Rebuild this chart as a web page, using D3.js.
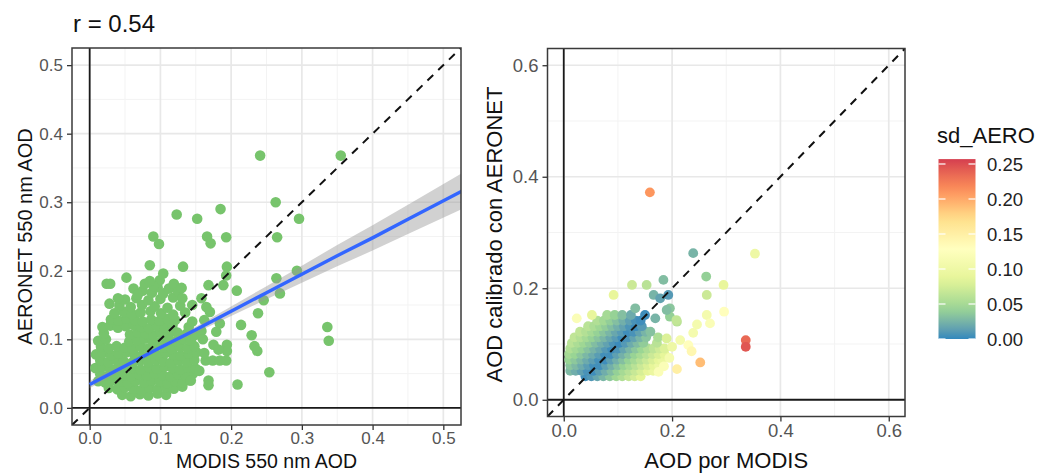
<!DOCTYPE html>
<html><head><meta charset="utf-8">
<script src="https://cdn.jsdelivr.net/npm/d3@7"></script>
<style>
body{margin:0;background:#fff;}
svg{display:block;}
text{font-family:"Liberation Sans", Arial, Helvetica, sans-serif;}
</style>
</head><body>
<svg id="chart" width="1044" height="473"></svg>
<script>
// ---------------- DATA ----------------
const plotTitle = "r = 0.54";
const leftXLabel = "MODIS 550 nm AOD";
const leftYLabel = "AERONET 550 nm AOD";
const rightXLabel = "AOD por MODIS";
const rightYLabel = "AOD calibrado con AERONET";
const legendTitle = "sd_AERO";

const leftTicks = [0.0, 0.1, 0.2, 0.3, 0.4, 0.5];
const leftMinor = [0.05, 0.15, 0.25, 0.35, 0.45];
const rightTicks = [0.0, 0.2, 0.4, 0.6];
const rightMinor = [0.1, 0.3, 0.5];
const legendBreaks = [0.00, 0.05, 0.10, 0.15, 0.20, 0.25];
const sdLimits = [0, 0.257];
const spectralColors = ["#3288BD", "#99D594", "#E6F598", "#FFFFBF", "#FEE08B", "#FC8D59", "#D53E4F"];

// MODIS (x) vs AERONET (y) – dense cluster
const modisAeronetCluster = [
 [0.046,0.019],[0.058,0.017],[0.071,0.020],[0.083,0.018],[0.096,0.021],[0.108,0.019],
 [0.027,0.029],[0.039,0.027],[0.050,0.030],[0.062,0.028],[0.073,0.026],[0.085,0.029],[0.096,0.027],[0.108,0.030],[0.119,0.028],[0.131,0.031],
 [0.012,0.039],[0.022,0.037],[0.033,0.040],[0.043,0.038],[0.054,0.036],[0.065,0.039],[0.077,0.037],[0.088,0.040],[0.099,0.038],[0.110,0.036],[0.121,0.039],[0.132,0.037],[0.142,0.040],
 [0.015,0.049],[0.026,0.047],[0.037,0.050],[0.048,0.048],[0.059,0.046],[0.070,0.049],[0.081,0.047],[0.092,0.050],[0.103,0.048],[0.114,0.046],[0.125,0.049],[0.136,0.047],[0.146,0.050],
 [0.008,0.058],[0.018,0.060],[0.029,0.057],[0.040,0.059],[0.050,0.061],[0.061,0.058],[0.072,0.056],[0.084,0.059],[0.095,0.057],[0.106,0.060],[0.117,0.058],[0.128,0.056],[0.139,0.059],[0.150,0.057],
 [0.015,0.069],[0.026,0.067],[0.037,0.070],[0.048,0.068],[0.060,0.066],[0.071,0.069],[0.082,0.067],[0.093,0.070],[0.104,0.068],[0.115,0.066],[0.126,0.069],[0.137,0.067],[0.148,0.070],
 [0.009,0.078],[0.019,0.080],[0.030,0.077],[0.041,0.079],[0.052,0.081],[0.063,0.078],[0.074,0.076],[0.085,0.079],[0.096,0.077],[0.107,0.080],[0.118,0.078],[0.129,0.076],[0.140,0.079],[0.151,0.081],
 [0.016,0.089],[0.027,0.087],[0.038,0.090],[0.050,0.088],[0.061,0.086],[0.072,0.089],[0.083,0.087],[0.094,0.090],[0.105,0.088],[0.116,0.086],[0.127,0.089],[0.138,0.087],[0.148,0.090],
 [0.012,0.098],[0.023,0.100],[0.056,0.097],[0.067,0.099],[0.078,0.101],[0.089,0.098],[0.100,0.096],[0.111,0.099],[0.122,0.097],[0.133,0.100],[0.143,0.098],
 [0.020,0.109],[0.057,0.107],[0.068,0.110],[0.079,0.108],[0.090,0.106],[0.101,0.109],[0.112,0.107],[0.124,0.110],[0.137,0.108],[0.148,0.106],
 [0.018,0.118],[0.029,0.120],[0.040,0.117],[0.051,0.119],[0.062,0.121],[0.073,0.118],[0.084,0.116],[0.095,0.119],[0.106,0.117],[0.117,0.120],[0.140,0.118],
 [0.030,0.129],[0.041,0.127],[0.052,0.130],[0.064,0.128],[0.075,0.126],[0.087,0.129],[0.099,0.127],[0.110,0.130],[0.121,0.128],[0.145,0.126],
 [0.035,0.138],[0.048,0.140],[0.060,0.137],[0.072,0.139],[0.086,0.141],[0.101,0.138],[0.118,0.136],[0.135,0.139],
 [0.042,0.149],[0.058,0.147],[0.074,0.150],[0.092,0.148],[0.110,0.146],[0.128,0.149],
 [0.050,0.158],[0.066,0.160],[0.083,0.157],[0.100,0.159],[0.118,0.161],
 [0.088,0.168],[0.096,0.176],[0.104,0.167],[0.112,0.174],[0.119,0.181],[0.125,0.170],[0.131,0.160],[0.075,0.171],[0.062,0.174],[0.078,0.181],[0.099,0.186],[0.068,0.165],[0.040,0.160],[0.028,0.152]
];
// MODIS (x) vs AERONET (y) – scattered points
const modisAeronetScatter = [
 [0.241,0.368],[0.355,0.368],[0.263,0.300],[0.296,0.276],[0.123,0.282],[0.152,0.276],[0.185,0.290],
 [0.090,0.250],[0.098,0.239],[0.166,0.250],[0.171,0.240],[0.193,0.249],[0.265,0.249],
 [0.085,0.208],[0.132,0.206],[0.104,0.196],[0.194,0.206],[0.193,0.193],[0.052,0.190],[0.024,0.181],[0.029,0.181],
 [0.168,0.179],[0.189,0.179],[0.208,0.171],[0.264,0.189],[0.269,0.167],[0.293,0.200],[0.246,0.157],[0.238,0.138],[0.214,0.121],
 [0.336,0.118],[0.338,0.098],[0.165,0.147],[0.170,0.140],[0.162,0.128],[0.184,0.123],[0.158,0.160],[0.158,0.112],
 [0.179,0.111],[0.194,0.092],[0.194,0.083],[0.175,0.092],[0.182,0.085],[0.164,0.069],[0.174,0.069],[0.184,0.069],[0.193,0.069],
 [0.155,0.054],[0.168,0.040],[0.168,0.033],[0.143,0.040],[0.229,0.106],[0.233,0.090],[0.237,0.083],[0.254,0.052],[0.209,0.034],
 [0.160,0.100],[0.162,0.080],[0.090,0.178],[0.085,0.185],[0.130,0.175],[0.145,0.150]
];

// linear fit with 95% band
const smoothX   = [0.000, 0.050, 0.100, 0.150, 0.200, 0.250, 0.300, 0.350, 0.400, 0.450, 0.526];
const smoothFit = [0.034, 0.061, 0.088, 0.114, 0.141, 0.168, 0.195, 0.222, 0.248, 0.275, 0.316];
const smoothLo  = [0.0285,0.0575,0.085, 0.1095,0.134, 0.1585,0.1825,0.2065,0.2295,0.2535,0.290];
const smoothHi  = [0.0395,0.0645,0.091, 0.1185,0.148, 0.1775,0.2075,0.2375,0.2665,0.2965,0.342];

// MODIS (x) vs calibrated AOD (y), sd_AERO colour
const calibratedCluster = [
 [0.040,0.042,0.004],[0.051,0.042,0.009],[0.062,0.042,0.017],[0.073,0.042,0.026],[0.085,0.042,0.036],[0.097,0.042,0.046],[0.108,0.042,0.055],[0.120,0.042,0.066],[0.131,0.042,0.075],[0.142,0.042,0.085],
 [0.012,0.052,0.028],[0.022,0.052,0.021],[0.033,0.052,0.014],[0.044,0.052,0.006],[0.055,0.052,0.003],[0.066,0.052,0.012],[0.077,0.052,0.021],[0.088,0.052,0.030],[0.099,0.052,0.040],[0.110,0.052,0.050],[0.121,0.052,0.059],[0.132,0.052,0.068],[0.143,0.052,0.077],[0.155,0.052,0.087],[0.165,0.052,0.095],
 [0.012,0.062,0.035],[0.023,0.062,0.028],[0.034,0.062,0.020],[0.045,0.062,0.012],[0.056,0.062,0.004],[0.067,0.062,0.004],[0.078,0.062,0.014],[0.089,0.062,0.023],[0.100,0.062,0.032],[0.111,0.062,0.042],[0.122,0.062,0.051],[0.133,0.062,0.060],[0.144,0.062,0.070],[0.155,0.062,0.079],[0.166,0.062,0.088],[0.176,0.062,0.098],
 [0.010,0.072,0.043],[0.021,0.072,0.036],[0.032,0.072,0.028],[0.043,0.072,0.020],[0.054,0.072,0.013],[0.065,0.072,0.005],[0.076,0.072,0.003],[0.087,0.072,0.013],[0.098,0.072,0.022],[0.109,0.072,0.031],[0.120,0.072,0.041],[0.131,0.072,0.050],[0.142,0.072,0.060],[0.153,0.072,0.069],[0.164,0.072,0.078],[0.175,0.072,0.088],[0.182,0.072,0.094],
 [0.010,0.082,0.050],[0.021,0.082,0.043],[0.032,0.082,0.035],[0.043,0.082,0.027],[0.054,0.082,0.020],[0.065,0.082,0.012],[0.076,0.082,0.004],[0.087,0.082,0.004],[0.098,0.082,0.014],[0.109,0.082,0.023],[0.120,0.082,0.032],[0.131,0.082,0.042],[0.142,0.082,0.051],[0.153,0.082,0.060],[0.164,0.082,0.070],[0.175,0.082,0.079],[0.186,0.082,0.088],
 [0.012,0.092,0.056],[0.023,0.092,0.048],[0.034,0.092,0.041],[0.045,0.092,0.033],[0.056,0.092,0.025],[0.067,0.092,0.018],[0.078,0.092,0.010],[0.089,0.092,0.003],[0.100,0.092,0.007],[0.111,0.092,0.016],[0.122,0.092,0.026],[0.133,0.092,0.035],[0.144,0.092,0.044],[0.155,0.092,0.054],[0.166,0.092,0.063],[0.177,0.092,0.072],[0.186,0.092,0.080],
 [0.015,0.102,0.061],[0.026,0.102,0.053],[0.037,0.102,0.046],[0.048,0.102,0.038],[0.059,0.102,0.030],[0.070,0.102,0.022],[0.081,0.102,0.015],[0.092,0.102,0.007],[0.103,0.102,0.002],[0.114,0.102,0.010],[0.125,0.102,0.020],[0.136,0.102,0.029],[0.147,0.102,0.038],[0.172,0.102,0.060],
 [0.020,0.112,0.064],[0.031,0.112,0.057],[0.042,0.112,0.049],[0.053,0.112,0.041],[0.064,0.112,0.034],[0.075,0.112,0.026],[0.086,0.112,0.018],[0.097,0.112,0.011],[0.108,0.112,0.003],[0.119,0.112,0.006],[0.130,0.112,0.015],[0.141,0.112,0.025],[0.152,0.112,0.034],[0.174,0.112,0.053],
 [0.030,0.122,0.064],[0.041,0.122,0.057],[0.052,0.122,0.049],[0.063,0.122,0.041],[0.074,0.122,0.034],[0.085,0.122,0.026],[0.096,0.122,0.018],[0.107,0.122,0.011],[0.118,0.122,0.003],[0.129,0.122,0.006],[0.140,0.122,0.015],[0.151,0.122,0.025],[0.160,0.122,0.032],
 [0.045,0.132,0.061],[0.056,0.132,0.053],[0.067,0.132,0.046],[0.078,0.132,0.038],[0.089,0.132,0.030],[0.100,0.132,0.022],[0.111,0.132,0.015],[0.122,0.132,0.007],[0.133,0.132,0.002],[0.144,0.132,0.010],
 [0.062,0.142,0.056],[0.074,0.142,0.048],[0.086,0.142,0.039],[0.098,0.142,0.031],[0.110,0.142,0.022],[0.122,0.142,0.014],[0.133,0.142,0.006],[0.142,0.142,0.003],
 [0.080,0.152,0.050],[0.094,0.152,0.041],[0.108,0.152,0.031],[0.124,0.152,0.020],[0.150,0.152,0.003]
];
const calibratedScatter = [
 [0.159,0.372,0.210],[0.239,0.263,0.025],[0.353,0.262,0.100],[0.263,0.221,0.040],[0.295,0.206,0.090],[0.264,0.188,0.070],
 [0.296,0.158,0.130],[0.264,0.152,0.110],[0.270,0.137,0.120],[0.246,0.135,0.110],[0.239,0.120,0.110],[0.215,0.107,0.110],
 [0.230,0.098,0.130],[0.236,0.087,0.140],[0.252,0.067,0.190],[0.209,0.055,0.150],[0.336,0.107,0.235],[0.336,0.095,0.245],
 [0.184,0.215,0.030],[0.153,0.206,0.060],[0.126,0.206,0.070],[0.092,0.188,0.090],[0.166,0.188,0.025],[0.178,0.182,0.015],
 [0.193,0.188,0.010],[0.196,0.164,0.035],[0.196,0.149,0.040],[0.169,0.146,0.025],[0.209,0.140,0.060],[0.132,0.164,0.030],
 [0.024,0.146,0.120],[0.052,0.152,0.090],[0.190,0.161,0.030],[0.208,0.143,0.065],[0.190,0.110,0.080],[0.200,0.095,0.100],
 [0.195,0.075,0.110],[0.185,0.060,0.120],[0.175,0.050,0.120]
];

// ---------------- DRAWING ----------------
const svg = d3.select("#chart");
const fmt1 = d3.format(".1f"), fmt2 = d3.format(".2f");
const gridMajor = "#e8e8e8", gridMinor = "#f3f3f3", axisCol = "#333333", tickTextCol = "#555555";

function panel(opts) {
  const {x, y, ticks, minor, id} = opts;
  const [x0, x1] = x.range(), [y0, y1] = y.range();
  const g = svg.append("g");
  g.append("clipPath").attr("id", id).append("rect")
    .attr("x", x0).attr("y", y1).attr("width", x1 - x0).attr("height", y0 - y1);
  g.selectAll(".mvx").data(minor).join("line")
    .attr("x1", d => x(d)).attr("x2", d => x(d)).attr("y1", y1).attr("y2", y0)
    .attr("stroke", gridMinor).attr("stroke-width", 1);
  g.selectAll(".mhy").data(minor).join("line")
    .attr("y1", d => y(d)).attr("y2", d => y(d)).attr("x1", x0).attr("x2", x1)
    .attr("stroke", gridMinor).attr("stroke-width", 1);
  g.selectAll(".gvx").data(ticks).join("line")
    .attr("x1", d => x(d)).attr("x2", d => x(d)).attr("y1", y1).attr("y2", y0)
    .attr("stroke", gridMajor).attr("stroke-width", 1.7);
  g.selectAll(".ghy").data(ticks).join("line")
    .attr("y1", d => y(d)).attr("y2", d => y(d)).attr("x1", x0).attr("x2", x1)
    .attr("stroke", gridMajor).attr("stroke-width", 1.7);
  const ax = g.append("g").attr("transform", `translate(0,${y0})`)
    .call(d3.axisBottom(x).tickValues(ticks).tickFormat(fmt1).tickSizeOuter(0).tickSize(5).tickPadding(2));
  const ay = g.append("g").attr("transform", `translate(${x0},0)`)
    .call(d3.axisLeft(y).tickValues(ticks).tickFormat(fmt1).tickSizeOuter(0).tickSize(5).tickPadding(4));
  [ax, ay].forEach(a => {
    a.select(".domain").remove();
    a.selectAll(".tick line").attr("stroke", axisCol).attr("stroke-width", 1.3);
    a.selectAll(".tick text").attr("fill", tickTextCol).attr("font-size", opts.tickSize)
      .attr("font-family", "Liberation Sans, Arial, sans-serif");
  });
  const ref = g.append("g").attr("clip-path", `url(#${id})`);
  ref.append("line").attr("x1", x(0)).attr("x2", x(0)).attr("y1", y1).attr("y2", y0)
    .attr("stroke", "#1a1a1a").attr("stroke-width", 1.8);
  ref.append("line").attr("y1", y(0)).attr("y2", y(0)).attr("x1", x0).attr("x2", x1)
    .attr("stroke", "#1a1a1a").attr("stroke-width", 1.8);
  const layer = g.append("g").attr("clip-path", `url(#${id})`);
  return {g, layer, x0, x1, y0, y1};
}

// ---- left panel ----
const xL = d3.scaleLinear().domain([-0.025, 0.525]).range([72, 461]);
const yL = d3.scaleLinear().domain([-0.025, 0.525]).range([425, 48]);
const L = panel({x: xL, y: yL, ticks: leftTicks, minor: leftMinor, id: "clipL", tickSize: "17px"});

const leftPts = modisAeronetCluster.concat(modisAeronetScatter);
L.layer.selectAll("circle.p").data(leftPts).join("circle")
  .attr("cx", d => xL(d[0])).attr("cy", d => yL(d[1])).attr("r", 5.3)
  .attr("fill", "#77C46C");

const band = smoothX.map((v, i) => ({x: v, lo: smoothLo[i], hi: smoothHi[i], f: smoothFit[i]}));
L.layer.append("path").datum(band)
  .attr("d", d3.area().x(d => xL(d.x)).y0(d => yL(d.lo)).y1(d => yL(d.hi)))
  .attr("fill", "#999999").attr("fill-opacity", 0.45);
L.layer.append("path").datum(band)
  .attr("d", d3.line().x(d => xL(d.x)).y(d => yL(d.f)))
  .attr("fill", "none").attr("stroke", "#3366FF").attr("stroke-width", 3.4);
L.layer.append("line")
  .attr("x1", xL(-0.025)).attr("y1", yL(-0.025)).attr("x2", xL(0.525)).attr("y2", yL(0.525))
  .attr("stroke", "#111").attr("stroke-width", 2).attr("stroke-dasharray", "8,7");
L.g.append("rect").attr("x", L.x0).attr("y", L.y1).attr("width", L.x1 - L.x0).attr("height", L.y0 - L.y1)
  .attr("fill", "none").attr("stroke", "#3a3a3a").attr("stroke-width", 1.5);

svg.append("text").attr("x", 73).attr("y", 32).attr("font-size", "24px").attr("fill", "#111").text(plotTitle);
svg.append("text").attr("x", (L.x0 + L.x1) / 2).attr("y", 468).attr("text-anchor", "middle")
  .attr("font-size", "19.5px").attr("fill", "#111").text(leftXLabel);
svg.append("text").attr("transform", `translate(32,${(L.y0 + L.y1) / 2}) rotate(-90)`)
  .attr("text-anchor", "middle").attr("font-size", "20px").attr("fill", "#111").text(leftYLabel);

// ---- right panel ----
const xR = d3.scaleLinear().domain([-0.03, 0.63]).range([547.5, 905]);
const yR = d3.scaleLinear().domain([-0.03, 0.63]).range([416.5, 48.5]);
const R = panel({x: xR, y: yR, ticks: rightTicks, minor: rightMinor, id: "clipR", tickSize: "18.5px"});

const color = d3.scaleLinear()
  .domain(spectralColors.map((c, i) => sdLimits[0] + (sdLimits[1] - sdLimits[0]) * i / (spectralColors.length - 1)))
  .range(spectralColors).interpolate(d3.interpolateLab).clamp(true);

const rightPts = calibratedCluster.concat(calibratedScatter);
R.layer.selectAll("circle.q").data(rightPts).join("circle")
  .attr("cx", d => xR(d[0])).attr("cy", d => yR(d[1])).attr("r", 4.9)
  .attr("fill", d => color(d[2]));
R.layer.append("line")
  .attr("x1", xR(-0.03)).attr("y1", yR(-0.03)).attr("x2", xR(0.63)).attr("y2", yR(0.63))
  .attr("stroke", "#111").attr("stroke-width", 2).attr("stroke-dasharray", "8,7");
R.g.append("rect").attr("x", R.x0).attr("y", R.y1).attr("width", R.x1 - R.x0).attr("height", R.y0 - R.y1)
  .attr("fill", "none").attr("stroke", "#3a3a3a").attr("stroke-width", 1.5);

svg.append("text").attr("x", (R.x0 + R.x1) / 2).attr("y", 468).attr("text-anchor", "middle")
  .attr("font-size", "22px").attr("fill", "#111").text(rightXLabel);
svg.append("text").attr("transform", `translate(502,${(R.y0 + R.y1) / 2 + 2}) rotate(-90)`)
  .attr("text-anchor", "middle").attr("font-size", "22px").attr("fill", "#111").text(rightYLabel);

// ---- legend ----
const legY = d3.scaleLinear().domain([0, 0.25]).range([339, 164]);
const barX = 938.5, barW = 37;
const defs = svg.append("defs");
const grad = defs.append("linearGradient").attr("id", "sdgrad")
  .attr("x1", 0).attr("y1", 1).attr("x2", 0).attr("y2", 0);
d3.range(0, 1.0001, 0.05).forEach(t => {
  grad.append("stop").attr("offset", t).attr("stop-color", color(sdLimits[0] + t * (sdLimits[1] - sdLimits[0])));
});
svg.append("rect").attr("x", barX).attr("y", legY(sdLimits[1])).attr("width", barW)
  .attr("height", legY(sdLimits[0]) - legY(sdLimits[1])).attr("fill", "url(#sdgrad)");
const lt = svg.append("g");
lt.selectAll("line.a").data(legendBreaks).join("line")
  .attr("x1", barX).attr("x2", barX + 7).attr("y1", d => legY(d)).attr("y2", d => legY(d))
  .attr("stroke", "#fff").attr("stroke-width", 1.2);
lt.selectAll("line.b").data(legendBreaks).join("line")
  .attr("x1", barX + barW - 7).attr("x2", barX + barW).attr("y1", d => legY(d)).attr("y2", d => legY(d))
  .attr("stroke", "#fff").attr("stroke-width", 1.2);
lt.selectAll("text").data(legendBreaks).join("text")
  .attr("x", 987).attr("y", d => legY(d)).attr("dy", "0.36em")
  .attr("font-size", "18.5px").attr("fill", "#222").text(d => fmt2(d));
svg.append("text").attr("x", 937).attr("y", 143).attr("font-size", "22px").attr("fill", "#111").text(legendTitle);
</script>
</body></html>
